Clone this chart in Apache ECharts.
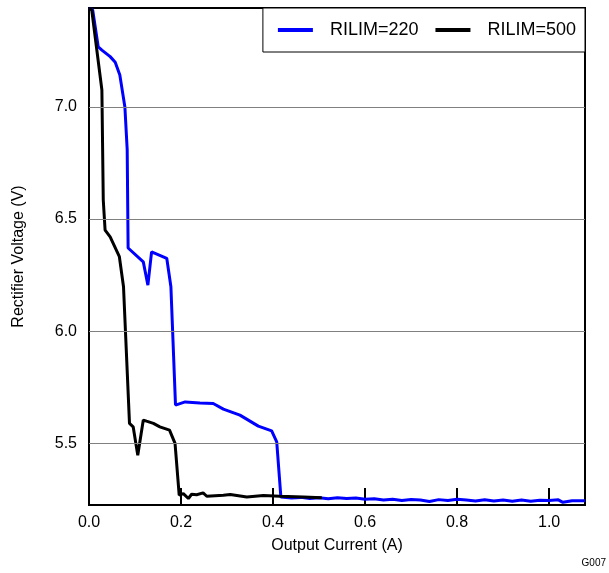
<!DOCTYPE html>
<html>
<head>
<meta charset="utf-8">
<script src="https://cdn.jsdelivr.net/npm/echarts@6/dist/echarts.min.js"></script>
<style>html,body{margin:0;padding:0;background:#fff}#c{width:609px;height:573px}</style>
</head>
<body>
<div id="c"></div>
<script>
// Data
const seriesNames = ['RILIM=220', 'RILIM=500'];
const xTickLabels = [0, 0.2, 0.4, 0.6, 0.8, 1.0];
const yTickLabels = [5.5, 6.0, 6.5, 7.0];

const r220X = [0, 0.008, 0.020, 0.028, 0.046, 0.057, 0.067, 0.078, 0.083, 0.085, 0.118, 0.128, 0.136, 0.169, 0.178, 0.188, 0.209, 0.241, 0.270, 0.292, 0.328, 0.368, 0.397, 0.408, 0.417,
  0.44, 0.46, 0.48, 0.50, 0.52, 0.54, 0.56, 0.58, 0.60, 0.62, 0.64, 0.66, 0.68, 0.70, 0.72, 0.74, 0.76, 0.78, 0.80, 0.82, 0.84, 0.86, 0.88, 0.90, 0.92, 0.94, 0.96, 0.98, 1.00, 1.02, 1.03, 1.05, 1.078];
const r220Y = [7.442, 7.433, 7.269, 7.254, 7.225, 7.20, 7.143, 7.0, 6.81, 6.371, 6.309, 6.205, 6.354, 6.325, 6.198, 5.670, 5.684, 5.679, 5.677, 5.652, 5.625, 5.576, 5.555, 5.506, 5.260,
  5.255, 5.258, 5.253, 5.256, 5.252, 5.256, 5.253, 5.255, 5.250, 5.252, 5.246, 5.250, 5.244, 5.249, 5.246, 5.240, 5.248, 5.244, 5.250, 5.246, 5.242, 5.247, 5.242, 5.246, 5.241, 5.246, 5.241, 5.245, 5.244, 5.247, 5.236, 5.243, 5.243];

const r500X = [0, 0.006, 0.028, 0.031, 0.035, 0.046, 0.066, 0.075, 0.088, 0.096, 0.106, 0.118, 0.125, 0.140, 0.154, 0.175, 0.187, 0.196, 0.205, 0.216, 0.223, 0.234, 0.248, 0.256, 0.292, 0.307, 0.343, 0.379, 0.415, 0.466, 0.506];
const r500Y = [7.442, 7.433, 7.076, 6.585, 6.451, 6.421, 6.332, 6.198, 5.588, 5.573, 5.446, 5.603, 5.598, 5.588, 5.573, 5.558, 5.499, 5.268, 5.275, 5.253, 5.272, 5.270, 5.278, 5.263, 5.268, 5.271, 5.260, 5.266, 5.263, 5.260, 5.256];

const pair = (xs, ys) => xs.map((x, i) => [x, ys[i]]);
const FONT = 'Liberation Sans';

const chart = echarts.init(document.getElementById('c'), null, {renderer: 'canvas'});
chart.setOption({
  animation: false,
  backgroundColor: '#fff',
  grid: {left: 89, top: 8, right: 24, bottom: 68, show: true, borderColor: '#000', borderWidth: 2, containLabel: false},
  legend: {
    data: seriesNames,
    right: 24, top: 8,
    orient: 'horizontal',
    icon: 'rect',
    backgroundColor: '#fff',
    borderColor: '#000', borderWidth: 1,
    padding: [13, 9, 13, 15],
    itemWidth: 35, itemHeight: 4, itemGap: 17,
    textStyle: {fontFamily: FONT, fontSize: 18, lineHeight: 18, color: '#000', padding: [0, 0, 0, 12]}
  },
  xAxis: {
    type: 'value', min: 0, max: 1.078,
    name: 'Output Current (A)', nameLocation: 'middle', nameGap: 33,
    nameTextStyle: {fontFamily: FONT, fontSize: 16, color: '#000'},
    axisLine: {show: true, onZero: false, lineStyle: {color: '#000', width: 2}},
    axisTick: {show: true, inside: true, length: 17, customValues: xTickLabels.slice(1), lineStyle: {color: '#000', width: 2}},
    axisLabel: {customValues: xTickLabels, fontFamily: FONT, fontSize: 16, color: '#000', margin: 10,
      formatter: v => v.toFixed(1)},
    splitLine: {show: false}
  },
  yAxis: {
    type: 'value', min: 5.224, max: 7.442,
    name: 'Rectifier Voltage (V)', nameLocation: 'middle', nameGap: 62,
    nameTextStyle: {fontFamily: FONT, fontSize: 16, color: '#000'},
    axisLine: {show: true, onZero: false, lineStyle: {color: '#000', width: 2}},
    axisTick: {show: false},
    axisLabel: {customValues: yTickLabels, fontFamily: FONT, fontSize: 16, color: '#000', margin: 12,
      formatter: v => v.toFixed(1)},
    splitLine: {show: false}
  },
  graphic: [{type: 'text', right: 3, top: 558, style: {text: 'G007', font: '10px "Liberation Sans"', fill: '#000'}}],
  series: [
    {
      name: 'gridlines', type: 'line', data: pair(r220X, r220Y), symbol: 'none', silent: true,
      lineStyle: {opacity: 0}, z: 1,
      markLine: {silent: true, symbol: 'none', label: {show: false},
        lineStyle: {color: '#808080', width: 1, type: 'solid'},
        data: yTickLabels.map(v => ({yAxis: v}))}
    },
    {name: seriesNames[0], type: 'line', data: pair(r220X, r220Y), symbol: 'none', z: 3,
      lineStyle: {color: '#0000ff', width: 3}, itemStyle: {color: '#0000ff'}},
    {name: seriesNames[1], type: 'line', data: pair(r500X, r500Y), symbol: 'none', z: 4,
      lineStyle: {color: '#000000', width: 3}, itemStyle: {color: '#000000'}}
  ]
});
</script>
</body>
</html>
